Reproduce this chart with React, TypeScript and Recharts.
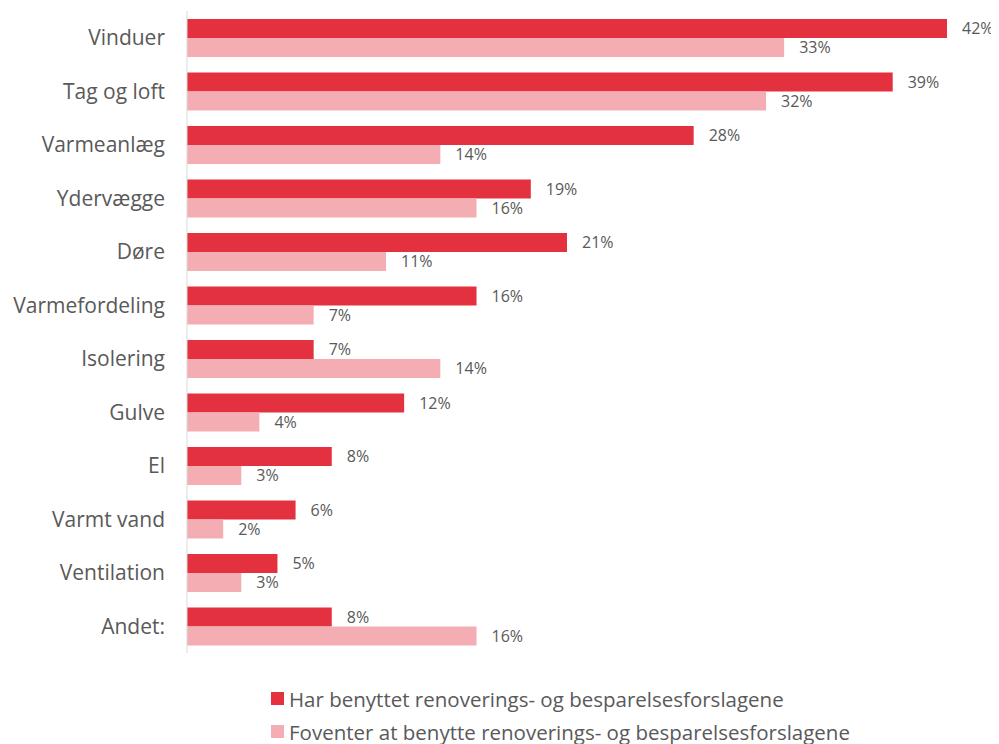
import { BarChart, Bar, XAxis, YAxis, LabelList } from 'recharts'

const categories = [
    'Vinduer', 'Tag og loft', 'Varmeanlæg', 'Ydervægge', 'Døre', 'Varmefordeling',
    'Isolering', 'Gulve', 'El', 'Varmt vand', 'Ventilation', 'Andet:'
]
const used = [42, 39, 28, 19, 21, 16, 7, 12, 8, 6, 5, 8]
const expected = [33, 32, 14, 16, 11, 7, 14, 4, 3, 2, 3, 16]

const seriesNames = [
    'Har benyttet renoverings- og besparelsesforslagene',
    'Foventer at benytte renoverings- og besparelsesforslagene'
]
const colors = ['#E3313F', '#F4AEB3']

const data = categories.map((name, i) => ({ name, used: used[i], expected: expected[i] }))

const FONT = '"Open Sans", sans-serif'
const TEXT = '#595959'

function LegendBox() {
    return (
        <div style={{ marginLeft: 263, marginTop: 26, fontFamily: FONT, color: TEXT, fontSize: 20.5 }}>
            {seriesNames.map((s, i) => (
                <div key={s} style={{ display: 'flex', alignItems: 'center', height: 33, whiteSpace: 'nowrap' }}>
                    <span style={{ width: 13, height: 13, background: colors[i], marginRight: 5 }} />
                    {s}
                </div>
            ))}
        </div>
    )
}

export default function App() {
    return (
        <div style={{ width: 991, fontFamily: FONT }}>
            <BarChart
                width={991}
                height={648}
                data={data}
                layout="vertical"
                margin={{ top: 3, right: 52, bottom: 3, left: 0 }}
                barGap={0}
                barSize={19}
            >
                <XAxis type="number" hide domain={[0, 42]} />
                <YAxis
                    type="category"
                    dataKey="name"
                    width={179}
                    tickLine={false}
                    axisLine={{ stroke: '#D9D9D9' }}
                    tick={{ fill: TEXT, fontSize: 21, fontFamily: FONT }}
                    tickMargin={16}
                />
                <Bar dataKey="used" fill={colors[0]} isAnimationActive={false}>
                    <LabelList
                        dataKey="used"
                        position="right"
                        offset={15}
                        formatter={(v: any) => v + '%'}
                        style={{ fill: TEXT, fontSize: 16, fontFamily: FONT }}
                    />
                </Bar>
                <Bar dataKey="expected" fill={colors[1]} isAnimationActive={false}>
                    <LabelList
                        dataKey="expected"
                        position="right"
                        offset={15}
                        formatter={(v: any) => v + '%'}
                        style={{ fill: TEXT, fontSize: 16, fontFamily: FONT }}
                    />
                </Bar>
            </BarChart>
            <LegendBox />
        </div>
    )
}
